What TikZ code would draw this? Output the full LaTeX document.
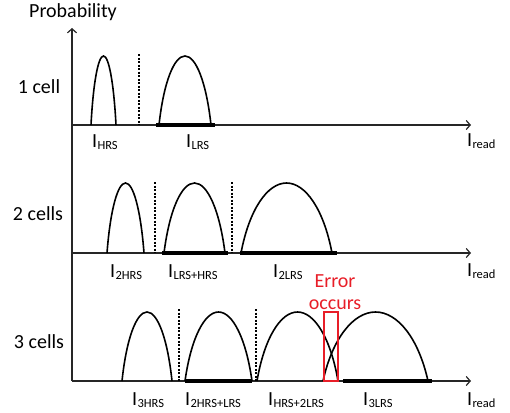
\documentclass[tikz,border=0pt]{standalone}
\usepackage{fontspec}
\setmainfont{Carlito}
\usetikzlibrary{arrows.meta}
\definecolor{errred}{RGB}{232,30,40}
% current label with a small subscript
\newcommand{\cur}[1]{I\kern0.3pt\raisebox{-2pt}{\fontsize{12.5}{13}\selectfont #1}}
% one distribution hump: left foot, right foot, baseline, top
\newcommand{\hump}[4]{%
    \pgfmathsetmacro{\hs}{(#2-#1)/2}%
    \pgfmathsetmacro{\hc}{(#1+#2)/2}%
    \pgfmathsetmacro{\hh}{#3-#4}%
    \draw[curve] (#1,#3) .. controls ({#1+0.18*\hs},{#3-0.62*\hh}) and ({\hc-0.42*\hs},#4) .. (\hc,#4)
                         .. controls ({\hc+0.42*\hs},#4) and ({#2-0.18*\hs},{#3-0.62*\hh}) .. (#2,#3);%
}

\begin{document}
\begin{tikzpicture}[x=1pt, y=-1pt, >={Straight Barb[length=4pt,width=9pt]}, font=\fontsize{20}{22}\selectfont]
    % styles
    \tikzstyle{curve} = [line width=1.6pt, black]
    \tikzstyle{axis} = [->, line width=1.2pt, black!85]
    \tikzstyle{band} = [line width=3.6pt, black]
    \tikzstyle{sep} = [dash pattern=on 2pt off 1.5pt, line width=1.4pt]
    \tikzstyle{lbl} = [anchor=base west, inner sep=0pt]
    \tikzstyle{rowlbl} = [anchor=base, inner sep=0pt]

    \useasboundingbox (0,0) rectangle (510,412);

    % ================= probability axis =================
    \coordinate (orig) at (72,381);
    \coordinate (ytop) at (72,28);
    \draw[axis] (orig) -- (ytop);
    \node[rowlbl] (prob) at (73,18) {Probability};

    % ================= 1 cell =================
    \coordinate (o1) at (72,125);
    \coordinate (e1) at (471,125);
    \draw[axis] (o1) -- (e1);
    \draw[band] (156,125) -- (215,125);
    \foreach \a/\b in {91/116, 159/211} {
        \hump{\a}{\b}{125}{56}
    }
    \draw[sep] (139,54) -- (139,125);
    \node[rowlbl] (row1) at (39,93) {1 cell};
    \node[lbl] (hrs1) at (92,147) {\cur{HRS}};
    \node[lbl] (lrs1) at (186,147) {\cur{LRS}};
    \node[lbl] (read1) at (467,146) {\cur{read}};

    % ================= 2 cells =================
    \coordinate (o2) at (72,253);
    \coordinate (e2) at (471,253);
    \draw[axis] (o2) -- (e2);
    \foreach \a/\b in {162/228, 240/337} {
        \draw[band] (\a,253) -- (\b,253);
    }
    \foreach \a/\b in {107/144, 164/225, 241/332} {
        \hump{\a}{\b}{253}{183}
    }
    \foreach \x in {155, 232} {
        \draw[sep] (\x,182) -- (\x,253);
    }
    \node[rowlbl] (row2) at (38,220) {2 cells};
    \node[lbl] (hrs2) at (110,277) {\cur{2HRS}};
    \node[lbl] (mix2) at (168,277) {\cur{LRS+HRS}};
    \node[lbl] (lrs2) at (273,277) {\cur{2LRS}};
    \node[lbl] (read2) at (467,276) {\cur{read}};

    % ================= 3 cells =================
    \coordinate (o3) at (72,381);
    \coordinate (e3) at (471,381);
    \draw[axis] (o3) -- (e3);
    \foreach \a/\b in {185/252, 343/432} {
        \draw[band] (\a,381) -- (\b,381);
    }
    \foreach \a/\b in {122/172, 185/252, 257/338, 323/428} {
        \hump{\a}{\b}{381}{312}
    }
    \foreach \x in {179, 256} {
        \draw[sep] (\x,309) -- (\x,381);
    }
    \node[rowlbl] (row3) at (39,348) {3 cells};
    \node[lbl] (hrs3) at (132,405) {\cur{3HRS}};
    \node[lbl] (mixa3) at (185,405) {\cur{2HRS+LRS}};
    \node[lbl] (mixb3) at (268,405) {\cur{HRS+2LRS}};
    \node[lbl] (lrs3) at (363,405) {\cur{3LRS}};
    \node[lbl] (read3) at (467,405) {\cur{read}};

    % overlap -> read error
    \draw[errred, line width=1.5pt] (324,312) rectangle (338,381);
    \node[rowlbl, errred, align=center] (err) at (335,309) {Error\\occurs};

\end{tikzpicture}
\end{document}
